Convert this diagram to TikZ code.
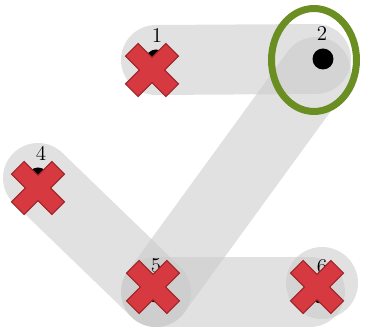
\documentclass[tikz,border=0pt]{standalone}
\usetikzlibrary{shapes.geometric,backgrounds}
\definecolor{xred}{HTML}{D63A40}
\definecolor{xedge}{HTML}{9E2328}
\definecolor{ringgreen}{HTML}{6B8E23}
\newcommand\crossat[1]{\filldraw[xmark,shift={#1},rotate=45] (9,9) -- (9,28.5) -- (-9,28.5) -- (-9,9) -- (-28.5,9) -- (-28.5,-9) -- (-9,-9) -- (-9,-28.5) -- (9,-28.5) -- (9,-9) -- (28.5,-9) -- (28.5,9) -- cycle;}
\begin{document}
\begin{tikzpicture}[x=0.02cm,y=-0.02cm,
    band/.style={line width=1.4cm,line cap=round,draw=black!21,draw opacity=.55},
    halo/.style={circle,minimum size=1.44cm,inner sep=0pt,fill=black!21,fill opacity=.55},
    dot/.style={circle,fill=black,minimum size=0.42cm,inner sep=0pt},
    lab/.style={font=\large,inner sep=0pt},
    xmark/.style={fill=xred,draw=xedge,line width=0.6pt},
    ring/.style={ellipse,draw=ringgreen,line width=0.14cm,minimum width=1.7cm,minimum height=2.06cm,inner sep=0pt}]
    \useasboundingbox (0,0) rectangle (366,330);
    % points
    \node[dot] (p1) at (156,60) {};
    \node[dot] (p2) at (323,59) {};
    \node[dot] (p4) at (38,178) {};
    \node[dot] (p5) at (156,292) {};
    \node[dot] (p6) at (321,293) {};
    \coordinate (a2) at (316,59);
    \coordinate (b2) at (316,72);
    \coordinate (c6) at (310,292);
    % gray path
    \begin{scope}[on background layer]
    \draw[band] (p1.center) -- (a2);
    \draw[band] (b2) -- (p5.center);
    \draw[band] (p4.center) -- (p5.center);
    \draw[band] (p5.center) -- (c6);
    \node[halo] (h6) at (322,283) {};
    \end{scope}
    % labels
    \node[lab] (l1) at (157,35) {1};
    \node[lab] (l2) at (322,33) {2};
    \node[lab] (l4) at (41,153) {4};
    \node[lab] (l5) at (156,266) {5};
    \node[lab] (l6) at (322,267) {6};
    % crosses
    \crossat{(152,70)}
    \crossat{(38,188)}
    \crossat{(153,287)}
    \crossat{(317,287)}
    \node[ring] (hl) at (314,60) {};
\end{tikzpicture}
\end{document}
